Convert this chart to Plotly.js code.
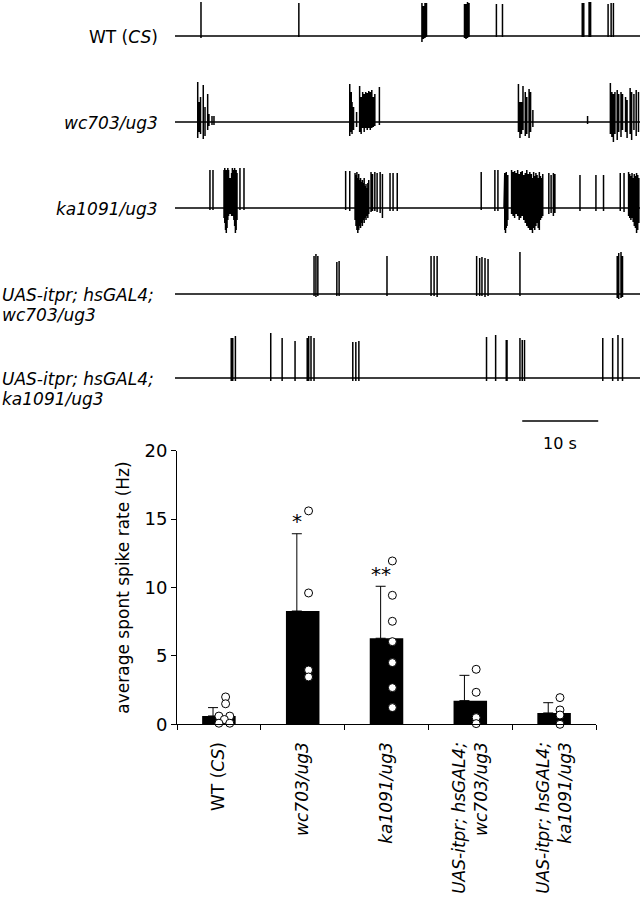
<!DOCTYPE html>
<html><head><meta charset="utf-8">
<script src="https://cdn.plot.ly/plotly-3.0.1.min.js"></script>
<style>html,body{margin:0;padding:0;background:#fff}</style>
</head><body><div id="chart" style="width:640px;height:900px"></div>
<script>
// ---------- DATA ----------
// group labels (shared by recordings and bar chart)
const groupLines = [
  ['WT (<i>CS</i>)'],
  ['<i>wc703/ug3</i>'],
  ['<i>ka1091/ug3</i>'],
  ['<i>UAS-itpr; hsGAL4;</i>', '<i>wc703/ug3</i>'],
  ['<i>UAS-itpr; hsGAL4;</i>', '<i>ka1091/ug3</i>']
];
// recording length (s) and scale bar (s)
const recDuration = 61.2;
const scaleStart = 45.7;
const scaleLen = 10;

// spike times (s), upward and downward deflections (a.u.) for each recording
const wtT    = [3.42,16.3,32.5,32.7,32.9,33.1,38.1,38.3,38.5,38.7,42.3,43.1,53.6,53.8,54.5,54.7,57.0,57.4,57.7];
const wtUp   = [34,33,33,30,33,33,32,32,34,33,32,32,33,33,34,34,32,33,33];
const wtDown = [2,1,6,3,2,1,2,3,2,1,1,1,1,1,1,1,1,1,1];

const wcT    = [2.99,3.16,3.36,3.72,3.95,4.30,4.47,4.87,5.13,
                23.0,23.2,23.3,23.5,23.9,24.3,24.5,24.7,24.9,25.1,25.3,25.5,25.7,25.9,26.1,26.3,26.9,
                45.2,45.4,45.6,45.8,46.1,46.3,46.6,46.8,47.1,54.3,
                57.3,57.5,57.7,57.9,58.2,58.4,58.7,58.9,59.3,59.5,59.9,60.1,60.4,60.7,61.0];
const wcUp   = [40,20,25,37,15,28,8,6,6,
                38,30,20,15,10,36,25,30,28,30,29,31,30,32,25,28,35,
                38,20,20,36,30,25,33,30,12,6,
                39,30,28,30,32,28,30,28,25,22,34,30,28,32,30];
const wcDown = [16,10,12,17,14,8,4,3,3,
                14,10,12,8,5,10,12,6,10,6,8,6,8,6,5,4,3,
                10,16,12,8,14,12,16,10,5,2,
                12,15,20,12,18,10,15,8,10,16,12,18,8,14,10];

const kaT    = [4.6,5.0,
                6.45,6.55,6.65,6.75,6.85,6.95,7.05,7.15,7.25,7.35,7.45,7.55,7.65,7.75,7.85,7.95,8.05,8.16,
                8.55,9.08,22.46,23.0,
                23.7,23.82,23.94,24.06,24.18,24.3,24.42,24.54,24.66,24.78,24.9,25.02,25.14,25.26,25.38,25.5,
                25.8,26.0,26.3,26.6,27.0,27.3,28.3,28.7,29.25,
                40.3,42.1,42.5,43.3,43.4,43.5,43.6,43.7,43.8,
                44.3,44.5,44.7,44.9,45.1,45.3,45.5,45.7,45.9,46.1,46.3,46.5,46.7,
                46.9,47.05,47.2,47.35,47.5,47.65,47.8,47.95,48.1,48.25,48.4,
                49.2,49.5,49.8,50.0,53.3,55.4,56.4,58.6,59.1,
                59.7,59.85,60.0,60.15,60.3,60.45,60.6,60.75,60.9,61.05];
const kaUp   = [38,38,
                38,40,36,38,35,40,38,30,25,30,35,40,38,36,40,30,38,35,
                40,40,37,37,
                35,33,36,30,34,28,30,26,28,25,30,22,24,20,25,28,
                36,34,36,35,36,34,35,35,35,
                36,38,38,30,35,32,36,30,33,
                38,36,37,35,38,34,36,37,33,35,38,34,36,
                34,30,36,32,35,33,30,36,32,30,34,
                35,33,35,34,33,33,33,35,35,
                36,34,32,35,30,34,32,35,33,30];
const kaDown = [2,2,
                10,15,22,25,20,12,8,6,5,6,8,8,10,12,18,25,22,12,
                2,2,2,3,
                12,18,22,25,22,18,20,15,18,12,15,10,12,8,10,6,
                4,3,3,4,5,10,3,3,3,
                2,3,3,15,22,25,20,18,12,
                6,8,10,6,8,12,10,8,12,15,18,20,22,
                22,25,20,22,18,15,20,22,12,10,8,
                6,5,8,5,3,3,3,3,4,
                8,10,12,10,14,18,20,25,22,15];

const uwT    = [18.3,18.55,18.8,21.3,21.6,27.9,33.7,34.1,34.5,39.7,40.1,40.4,40.8,41.2,45.4,58.2,58.4,58.7,58.9];
const uwUp   = [38,40,38,32,33,38,38,38,38,38,36,37,36,35,42,38,41,42,38];
const uwDown = [2,3,2,2,2,2,2,2,3,2,2,2,3,2,2,4,5,4,3];

const ukT    = [7.4,7.6,7.95,12.6,14.1,15.8,17.4,17.6,17.9,18.3,23.4,23.8,24.2,41.0,42.2,43.6,43.7,45.4,45.7,46.0,56.3,57.6,58.3,58.9];
const ukUp   = [40,40,42,45,40,37,40,42,42,40,36,36,37,41,43,38,38,40,38,38,40,40,43,40];
const ukDown = [3,3,3,3,3,3,3,3,3,3,3,3,3,3,3,3,3,3,3,3,3,3,3,3];

// bar chart: average spontaneous spike rate (Hz)
const means = [0.61, 8.28, 6.29, 1.73, 0.83];
const errs  = [0.61, 5.65, 3.80, 1.85, 0.75];
const sigMarks = ['', '*', '**', '', ''];
const wtPts  = [2.0, 1.5, 0.6, 0.6, 0.35, 0.08, 0.08];
const wcPts  = [15.6, 9.6, 3.97, 3.46];
const kaPts  = [11.94, 9.43, 7.53, 6.04, 4.51, 2.68, 1.22];
const uwPts  = [4.02, 2.34, 0.49, 0.05];
const ukPts  = [1.95, 1.05, 0.68, 0.0];

// ---------- LAYOUT HELPERS ----------
const W = 640, H = 900;
const FONT = 'DejaVu Sans, Verdana, sans-serif';
const px = x => x / W;
const py = y => 1 - y / H;

const recordings = [
  {t: wtT, up: wtUp, down: wtDown},
  {t: wcT, up: wcUp, down: wcDown},
  {t: kaT, up: kaUp, down: kaDown},
  {t: uwT, up: uwUp, down: uwDown},
  {t: ukT, up: ukUp, down: ukDown}
];
// pixel geometry of each recording row: baseline, top, bottom
const rows = [
  {yb: 36,  top: 0,   bot: 66},
  {yb: 122, top: 70,  bot: 160},
  {yb: 208, top: 160, bot: 246},
  {yb: 294, top: 246, bot: 330},
  {yb: 378, top: 330, bot: 410}
];

const data = [];
const layout = {
  width: W, height: H,
  margin: {l: 0, r: 0, t: 0, b: 0},
  paper_bgcolor: '#fff', plot_bgcolor: 'rgba(0,0,0,0)',
  showlegend: false,
  font: {family: FONT, size: 17, color: '#000'},
  annotations: [], shapes: []
};

layout.xaxis2 = {domain: [px(175), 1], range: [0, recDuration], visible: false, anchor: 'y2', fixedrange: true};

recordings.forEach((rec, i) => {
  const xs = [0], ys = [0];
  rec.t.forEach((t, k) => {
    xs.push(t, t, t, t);
    ys.push(0, rec.up[k], -rec.down[k], 0);
  });
  xs.push(recDuration); ys.push(0);
  const ax = 'y' + (i + 2);
  data.push({type: 'scatter', mode: 'lines', x: xs, y: ys, xaxis: 'x2', yaxis: ax,
             line: {color: '#000', width: 1.5}, hoverinfo: 'skip'});
  const r = rows[i];
  layout['yaxis' + (i + 2)] = {domain: [py(r.bot), py(r.top)], range: [-(r.bot - r.yb), r.yb - r.top],
                               visible: false, anchor: 'x2', fixedrange: true};
  // row label
  const lines = groupLines[i];
  if (lines.length === 1) {
    layout.annotations.push({xref: 'paper', yref: 'paper', x: px(160), y: py(r.yb + 1),
      xanchor: 'right', yanchor: 'middle', text: lines[0], showarrow: false, font: {size: 17, color: '#000'}});
  } else {
    lines.forEach((ln, j) => {
      layout.annotations.push({xref: 'paper', yref: 'paper', x: 0, y: py(r.yb + 1 + 20 * j),
        xanchor: 'left', yanchor: 'middle', text: ln, showarrow: false, font: {size: 17, color: '#000'}});
    });
  }
});

// scale bar
layout.shapes.push({type: 'line', xref: 'x2', yref: 'paper', x0: scaleStart, x1: scaleStart + scaleLen,
                    y0: py(421), y1: py(421), line: {color: '#000', width: 1.5}});
layout.annotations.push({xref: 'x2', yref: 'paper', x: scaleStart + scaleLen / 2, y: py(443),
  text: scaleLen + ' s', showarrow: false, xanchor: 'center', yanchor: 'middle', font: {size: 16, color: '#000'}});

// ---------- BAR CHART ----------
const idx = means.map((_, i) => i);
layout.xaxis = {
  domain: [px(177), px(596)], range: [-0.5, 4.5], anchor: 'y',
  tickmode: 'array', tickvals: idx, ticktext: groupLines.map(l => l.join('<br>')),
  tickangle: -90, ticks: '', ticklabelstandoff: 10, showline: true, linecolor: '#000', linewidth: 1,
  showgrid: false, zeroline: false, tickfont: {size: 17, color: '#000'}, fixedrange: true,
  minor: {tickmode: 'linear', tick0: -0.5, dtick: 1, ticks: 'outside', ticklen: 5, tickcolor: '#000', tickwidth: 1, showgrid: false}
};
layout.yaxis = {
  domain: [py(724.3), py(450.7)], range: [0, 20], dtick: 5, anchor: 'x',
  ticks: 'outside', ticklen: 5, tickcolor: '#000', showline: true, linecolor: '#000', linewidth: 1,
  showgrid: false, zeroline: false, tickfont: {size: 18, color: '#000'}, fixedrange: true,
  title: {text: 'average spont spike rate (Hz)', font: {size: 17, color: '#000'}, standoff: 10}
};

data.push({type: 'bar', x: idx, y: means, width: 0.4, marker: {color: '#000', line: {width: 0}},
           xaxis: 'x', yaxis: 'y', hoverinfo: 'skip'});
data.push({type: 'scatter', mode: 'markers', x: idx.map(i => i - 0.07), y: means,
           marker: {opacity: 0, size: 1}, xaxis: 'x', yaxis: 'y', hoverinfo: 'skip',
           error_y: {type: 'data', symmetric: false, array: errs, arrayminus: errs.map(() => 0),
                     color: '#000', thickness: 1, width: 5}});

const groupPts = [wtPts, wcPts, kaPts, uwPts, ukPts];
const wtJitter = [0.08, 0.08, 0.0, 0.13, 0.065, 0.0, 0.13];
const ptX = [], ptY = [];
groupPts.forEach((pts, g) => {
  pts.forEach((v, k) => {
    ptX.push(g + (g === 0 ? wtJitter[k] : 0.07));
    ptY.push(v);
  });
});
data.push({type: 'scatter', mode: 'markers', x: ptX, y: ptY, xaxis: 'x', yaxis: 'y', cliponaxis: false,
           marker: {symbol: 'circle', size: 8, color: '#fff', line: {color: '#000', width: 1}}, hoverinfo: 'skip'});

sigMarks.forEach((s, i) => {
  if (!s) return;
  layout.annotations.push({xref: 'x', yref: 'y', x: i - 0.063, y: means[i] + errs[i] + 0.9,
    text: s, showarrow: false, xanchor: 'center', yanchor: 'middle', font: {size: 20, color: '#000'}});
});

Plotly.newPlot('chart', data, layout, {staticPlot: true, displayModeBar: false});
</script>
</body></html>
